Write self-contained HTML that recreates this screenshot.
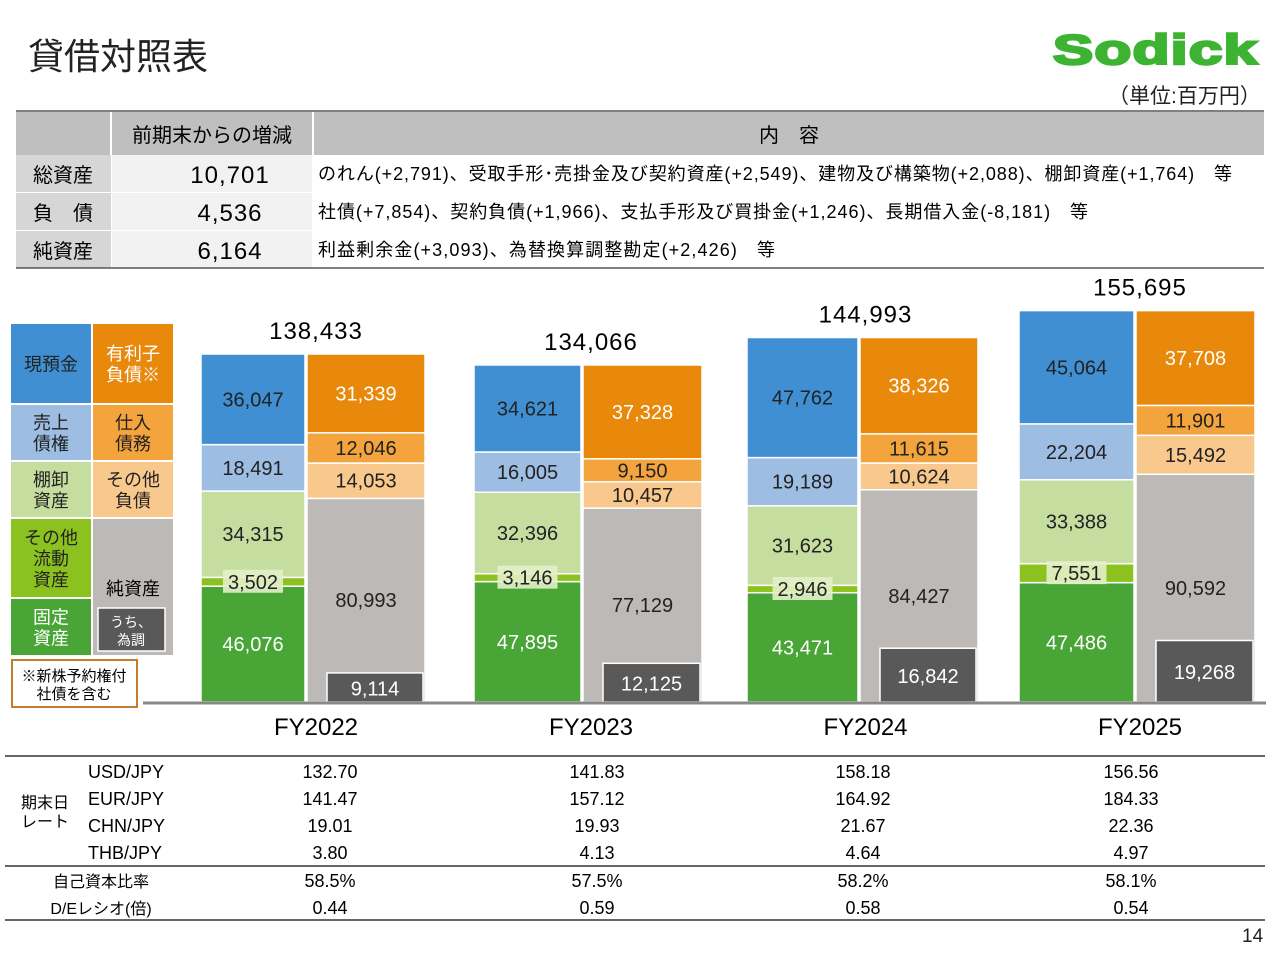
<!DOCTYPE html>
<html><head><meta charset="utf-8">
<style>
body{margin:0;width:1280px;height:960px;background:#fff;font-family:"Liberation Sans","Noto Sans CJK JP",sans-serif;color:#222;position:relative;overflow:hidden}
.abs{position:absolute}
svg text{font-family:"Liberation Sans","Noto Sans CJK JP",sans-serif}
</style></head><body>
<div class="abs" style="left:28px;top:28px;font-size:36px;">貸借対照表</div>
<div class="abs" style="left:1053px;top:26px;font-size:42px;font-weight:bold;color:#3cb432;-webkit-text-stroke:2.5px #3cb432;letter-spacing:1px;font-family:'Liberation Sans',sans-serif;transform:scaleX(1.43);transform-origin:left top">Sodick</div>
<div class="abs" style="left:1108px;top:80px;font-size:21px;">（単位:百万円）</div>

<svg class="abs" style="left:0;top:0" width="1280" height="960">
<g id="tbl"></g>
<g id="legend"></g>
<g id="bars"></g>
<g id="labels"></g>
<g id="rates"></g>
</svg>
<div class="abs" style="left:1242px;top:926px;font-size:19px;">14</div>

<script>
const years=["FY2022","FY2023","FY2024","FY2025"];
const fixedAssets=[46076,47895,43471,47486];
const otherCurrent=[3502,3146,2946,7551];
const inventory=[34315,32396,31623,33388];
const receivables=[18491,16005,19189,22204];
const cash=[36047,34621,47762,45064];
const netAssets=[80993,77129,84427,90592];
const otherLiab=[14053,10457,10624,15492];
const payables=[12046,9150,11615,11901];
const debt=[31339,37328,38326,37708];
const fxAdj=[9114,12125,16842,19268];
const totals=[138433,134066,144993,155695];
const usd=["132.70","141.83","158.18","156.56"];
const eur=["141.47","157.12","164.92","184.33"];
const chn=["19.01","19.93","21.67","22.36"];
const thb=["3.80","4.13","4.64","4.97"];
const equityRatio=["58.5%","57.5%","58.2%","58.1%"];
const deRatio=["0.44","0.59","0.58","0.54"];

const NS="http://www.w3.org/2000/svg";
function mk(parent,tag,attrs,txt){const e=document.createElementNS(NS,tag);for(const k in attrs)e.setAttribute(k,attrs[k]);if(txt!==undefined)e.textContent=txt;parent.appendChild(e);return e;}
const fmt=v=>v.toLocaleString("en-US");

// table
const tbl=document.getElementById("tbl");
let e;
e=mk(tbl,"rect",{x:16,y:112,width:1248,height:43,fill:"#bfbfbf"});


mk(tbl,"line",{x1:16,y1:111,x2:1264,y2:111,stroke:"#555","stroke-width":1.5});
mk(tbl,"line",{x1:111,y1:112,x2:111,y2:155,stroke:"#fff","stroke-width":2});
mk(tbl,"line",{x1:313,y1:112,x2:313,y2:155,stroke:"#fff","stroke-width":2});
mk(tbl,"text",{x:212,y:142,"font-size":20,"text-anchor":"middle"},"前期末からの増減");
mk(tbl,"text",{x:789,y:142,"font-size":20,"text-anchor":"middle"},"内　容");
const rowNames=["総資産","負　債","純資産"],rowVals=["10,701","4,536","6,164"],
rowTxt=["のれん(+2,791)、受取手形･売掛金及び契約資産(+2,549)、建物及び構築物(+2,088)、棚卸資産(+1,764)　等",
"社債(+7,854)、契約負債(+1,966)、支払手形及び買掛金(+1,246)、長期借入金(-8,181)　等",
"利益剰余金(+3,093)、為替換算調整勘定(+2,426)　等"],rowLen=[914,770,457];
for(let i=0;i<3;i++){const y=155+i*38;
e=mk(tbl,"rect",{x:16,y:y,width:95,height:37,fill:"#d6d6d6"});


mk(tbl,"rect",{x:112,y:y,width:200,height:37,fill:"#f2f2f2"});
mk(tbl,"text",{x:63,y:y+27,"font-size":20,"text-anchor":"middle"},rowNames[i]);
mk(tbl,"text",{x:230,y:y+28,"font-size":24,"text-anchor":"middle","letter-spacing":1},rowVals[i]);
mk(tbl,"text",{x:318,y:y+25,"font-size":18,textLength:rowLen[i],lengthAdjust:"spacing"},rowTxt[i]);
mk(tbl,"line",{x1:16,y1:y+37.5,x2:1264,y2:y+37.5,stroke:"#fff","stroke-width":1});
}
mk(tbl,"line",{x1:16,y1:268,x2:1264,y2:268,stroke:"#555","stroke-width":1.5});

// legend
const lg=document.getElementById("legend");
const L=[[11,324,80,79,"#3f8fd2","現預金","#222"],[93,324,80,79,"#e8890c","有利子\n負債※","#fff"],
[11,405,80,55,"#9dbde3","売上\n債権","#222"],[93,405,80,55,"#f4a43c","仕入\n債務","#222"],
[11,462,80,55,"#c5dea0","棚卸\n資産","#222"],[93,462,80,55,"#f9c88d","その他\n負債","#222"],
[11,519,80,78,"#8cc21f","その他\n流動\n資産","#222"],[93,519,80,136,"#bdb9b6","","#222"],
[11,599,80,56,"#4aa537","固定\n資産","#fff"]];
L.forEach(b=>{e=mk(lg,"rect",{x:b[0],y:b[1],width:b[2],height:b[3],fill:b[4]});


const lines=b[5].split("\n").filter(s=>s);const cy=b[1]+b[3]/2;
lines.forEach((s,j)=>mk(lg,"text",{x:b[0]+b[2]/2,y:cy+7+(j-(lines.length-1)/2)*21,"font-size":18,"text-anchor":"middle",fill:b[6]},s));});
mk(lg,"text",{x:133,y:595,"font-size":18,"text-anchor":"middle"},"純資産");
mk(lg,"rect",{x:98,y:608,width:67,height:43,fill:"#595959",stroke:"#fff","stroke-width":1.5});
mk(lg,"text",{x:131,y:627,"font-size":14,"text-anchor":"middle",fill:"#fff"},"うち、");
mk(lg,"text",{x:131,y:645,"font-size":14,"text-anchor":"middle",fill:"#fff"},"為調");
e=mk(lg,"rect",{x:12,y:660,width:125,height:47,fill:"#fff",stroke:"#c77b30","stroke-width":2});


mk(lg,"text",{x:74,y:681,"font-size":15,"text-anchor":"middle"},"※新株予約権付");
mk(lg,"text",{x:74,y:699,"font-size":15,"text-anchor":"middle"},"社債を含む");

// bars
const bars=document.getElementById("bars");
const labs=document.getElementById("labels");
const base=702,scale=348/138433;
const yv=v=>v*scale;
const assetX=[201,474,747,1019],assetW=[104,107,111,115];
const liabX=[307,583,860,1136],liabW=[118,119,118,119];
function stack(x,w,series,colors,textCols,i,nameBase){
 let y=base;
 series.forEach((s,k)=>{const h=yv(s[i]);y-=h;
  const r=mk(bars,"rect",{x:x,y:y,width:w,height:h,fill:colors[k],stroke:"#fff","stroke-width":1.5});
  
  
  const cy=y+h/2+7;
  if(colors[k]==="#8cc21f"){mk(labs,"rect",{x:x+w/2-30,y:cy-19,width:60,height:23,fill:"#e2efc8",opacity:0.9});}
  mk(labs,"text",{x:x+w/2,y:cy,"font-size":20,"text-anchor":"middle",fill:textCols[k]},fmt(s[i]));
 });
 return y;
}
years.forEach((yr,i)=>{
 stack(assetX[i],assetW[i],[fixedAssets,otherCurrent,inventory,receivables,cash],
  ["#4aa537","#8cc21f","#c5dea0","#9dbde3","#3f8fd2"],["#fff","#222","#222","#222","#222"],i,
  ["fixed-assets","other-current","inventory","receivables","cash"]);
 let y=base;
 const ls=[netAssets,otherLiab,payables,debt],lc=["#bdb9b6","#f9c88d","#f4a43c","#e8890c"],ltc=["#222","#222","#222","#fff"],ln=["net-assets","other-liabilities","payables","interest-debt"];
 ls.forEach((s,k)=>{const h=yv(s[i]);y-=h;
  const r=mk(bars,"rect",{x:liabX[i],y:y,width:liabW[i],height:h,fill:lc[k],stroke:"#fff","stroke-width":1.5});
  
  
  const cy=y+h/2+7;
  mk(labs,"text",{x:liabX[i]+liabW[i]/2,y:cy,"font-size":20,"text-anchor":"middle",fill:ltc[k]},fmt(s[i]));
 });
 const fh=yv(fxAdj[i])*1.27;
 const fb=mk(bars,"rect",{x:liabX[i]+20,y:base-fh,width:liabW[i]-22,height:fh,fill:"#595959",stroke:"#fff","stroke-width":1.5});
 
 
 mk(labs,"text",{x:liabX[i]+20+(liabW[i]-22)/2,y:base-fh/2+8,"font-size":20,"text-anchor":"middle",fill:"#fff"},fmt(fxAdj[i]));
 const cx=(assetX[i]+liabX[i]+liabW[i])/2+3;
 const t=mk(labs,"text",{x:cx,y:base-yv(totals[i])-15,"font-size":24,"text-anchor":"middle","letter-spacing":1},fmt(totals[i]));
 
 
 const fl=mk(labs,"text",{x:cx,y:735,"font-size":24,"text-anchor":"middle"},yr);
 
 
});
mk(bars,"line",{x1:143,y1:703,x2:1266,y2:703,stroke:"#888","stroke-width":3});

// rate table
const rt=document.getElementById("rates");
const colX=[330,597,863,1131];
[756,866,920].forEach(y=>mk(rt,"line",{x1:5,y1:y,x2:1265,y2:y,stroke:"#333","stroke-width":1.5}));
mk(rt,"text",{x:45,y:808,"font-size":16,"text-anchor":"middle"},"期末日");
mk(rt,"text",{x:45,y:827,"font-size":16,"text-anchor":"middle"},"レート");
const rows=[["USD/JPY",usd,778],["EUR/JPY",eur,805],["CHN/JPY",chn,832],["THB/JPY",thb,859]];
rows.forEach(r=>{mk(rt,"text",{x:88,y:r[2],"font-size":18},r[0]);
 r[1].forEach((v,i)=>mk(rt,"text",{x:colX[i],y:r[2],"font-size":18,"text-anchor":"middle"},v));});
mk(rt,"text",{x:101,y:887,"font-size":16,"text-anchor":"middle"},"自己資本比率");
mk(rt,"text",{x:101,y:914,"font-size":16,"text-anchor":"middle"},"D/Eレシオ(倍)");
equityRatio.forEach((v,i)=>mk(rt,"text",{x:colX[i],y:887,"font-size":18,"text-anchor":"middle"},v));
deRatio.forEach((v,i)=>mk(rt,"text",{x:colX[i],y:914,"font-size":18,"text-anchor":"middle"},v));
</script>
</body></html>
